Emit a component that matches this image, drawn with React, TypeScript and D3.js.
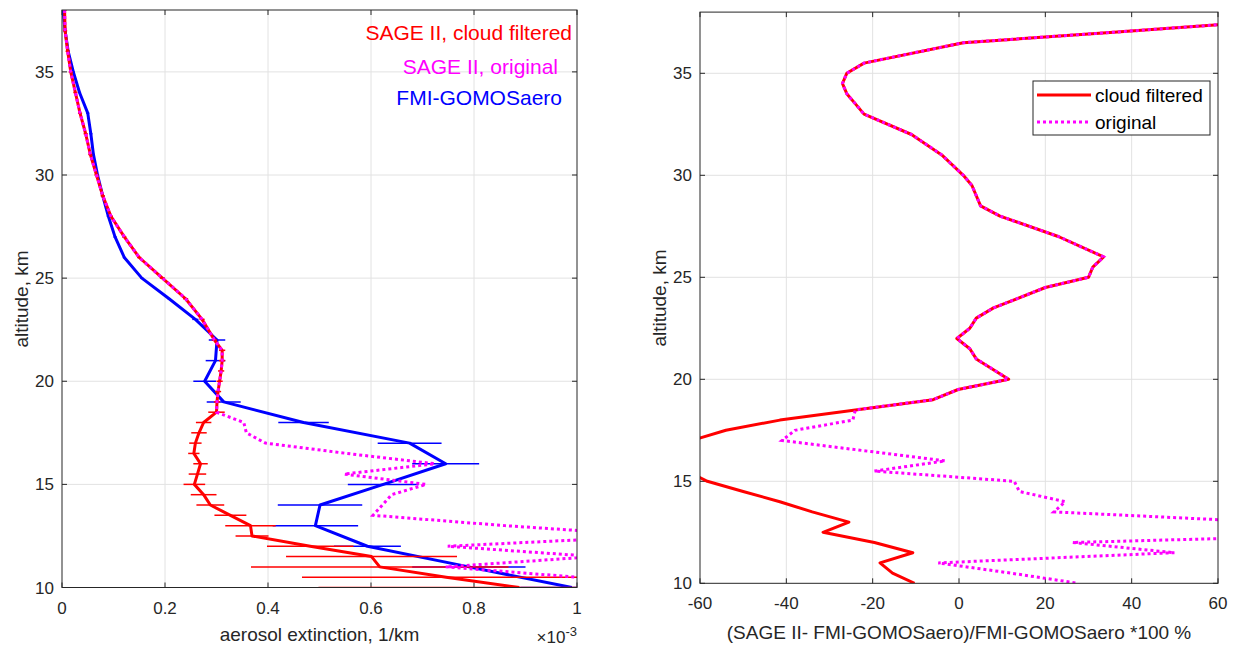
import React from 'react';
import * as d3 from 'd3';

// SAGE II profiles (altitude km, extinction in 1e-3 /km)
const altSage = [38, 37, 36, 35, 34, 33, 32, 31, 30, 29, 28, 27, 26, 25, 24, 23, 22, 21.5, 21, 20.5, 20, 19.5, 19, 18.5, 18, 17.5, 17, 16.5, 16, 15.5, 15, 14.5, 14, 13.5, 13, 12.5, 12, 11.5, 11, 10.5, 10];
const extFiltered = [0.005, 0.006, 0.011, 0.017, 0.026, 0.035, 0.046, 0.055, 0.067, 0.079, 0.095, 0.121, 0.150, 0.195, 0.240, 0.272, 0.296, 0.311, 0.311, 0.309, 0.306, 0.303, 0.301, 0.300, 0.275, 0.266, 0.259, 0.256, 0.269, 0.263, 0.257, 0.275, 0.288, 0.327, 0.366, 0.369, 0.482, 0.601, 0.617, 0.746, 0.888];
const extFilteredErr = [0.004, 0.004, 0.004, 0.004, 0.004, 0.004, 0.004, 0.004, 0.004, 0.004, 0.004, 0.004, 0.004, 0.005, 0.005, 0.005, 0.005, 0.006, 0.006, 0.006, 0.006, 0.006, 0.006, 0.016, 0.015, 0.015, 0.012, 0.011, 0.014, 0.017, 0.021, 0.025, 0.027, 0.031, 0.049, 0.032, 0.084, 0.166, 0.25, 0.28, 0.39];
const extOriginal = [0.005, 0.006, 0.011, 0.017, 0.026, 0.035, 0.046, 0.055, 0.067, 0.079, 0.095, 0.121, 0.150, 0.195, 0.240, 0.272, 0.296, 0.311, 0.311, 0.309, 0.306, 0.303, 0.301, 0.300, 0.353, 0.358, 0.395, 0.553, 0.724, 0.548, 0.707, 0.640, 0.622, 0.604, 0.86, 1.16, 0.749, 1.035, 0.745, 1.0, 1.26];

// FMI-GOMOSaero profile
const altFmi = [38, 37, 36, 35, 34, 33, 32, 31, 30, 29, 28, 27, 26, 25, 24, 23, 22, 21, 20, 19, 18, 17, 16, 15, 14, 13, 12, 11, 10];
const extFmi = [0.002, 0.006, 0.012, 0.022, 0.034, 0.050, 0.056, 0.061, 0.069, 0.079, 0.090, 0.103, 0.121, 0.155, 0.208, 0.259, 0.301, 0.298, 0.277, 0.314, 0.469, 0.675, 0.745, 0.624, 0.501, 0.492, 0.593, 0.79, 0.99];
const extFmiErr = [0.003, 0.003, 0.003, 0.003, 0.003, 0.003, 0.003, 0.003, 0.003, 0.003, 0.003, 0.003, 0.003, 0.003, 0.003, 0.006, 0.016, 0.019, 0.022, 0.033, 0.049, 0.062, 0.065, 0.069, 0.082, 0.083, 0.065, 0.11, 0.1];

// relative difference, %
const altDiff = [37.5, 37, 36.5, 35.5, 35, 34.5, 34, 33.5, 33, 32, 31, 30, 29.5, 28.5, 28, 27, 26, 25.5, 25, 24.5, 23.5, 23, 22.5, 22, 21.5, 21, 20, 19.5, 19, 18.5, 18, 17.5, 17, 16.5, 16, 15.5, 15, 14.5, 14, 13.5, 13, 12.5, 12, 11.5, 11, 10.5, 10];
const diffFiltered = [68, 35, 1, -22, -26, -27, -26, -24, -22, -11, -4, 1, 3, 5, 9.5, 23, 33.5, 31, 30, 20, 8, 4, 2.5, -0.5, 2.5, 4, 11.5, -0.2, -6, -24, -41.5, -54, -62, -63, -64, -63, -58.3, -50, -41.5, -34, -25.5, -31.5, -19.6, -10.7, -18.3, -15.4, -10.3];
const diffOriginal = [68, 35, 1, -22, -26, -27, -26, -24, -22, -11, -4, 1, 3, 5, 9.5, 23, 33.5, 31, 30, 20, 8, 4, 2.5, -0.5, 2.5, 4, 11.5, -0.2, -6, -24, -24.6, -38, -41, -22, -3.2, -19.6, 12.8, 14, 24.6, 22, 72, 115, 26.3, 49.9, -4.8, 12, 27.6];

const extTicks = [0, 0.2, 0.4, 0.6, 0.8, 1];
const diffTicks = [-60, -40, -20, 0, 20, 40, 60];
const altTicks = [10, 15, 20, 25, 30, 35];

const FONT = '"Liberation Sans", Arial, Helvetica, sans-serif';
const AX = '#262626';
const GRID = '#e2e2e2';

type Scale = d3.ScaleLinear<number, number>;

function Frame({ id, x, y, xticks, yticks, fmt }: { id: string; x: Scale; y: Scale; xticks: number[]; yticks: number[]; fmt: (v: number) => string }) {
  const [x0, x1] = x.range();
  const [y0, y1] = y.range();
  const tl = 5;
  return (
    <g>
      <defs>
        <clipPath id={id}>
          <rect x={x0} y={y1} width={x1 - x0} height={y0 - y1} />
        </clipPath>
      </defs>
      <rect x={x0} y={y1} width={x1 - x0} height={y0 - y1} fill="#fff" />
      {xticks.slice(1, -1).map(t => (
        <line key={'gx' + t} x1={x(t)} x2={x(t)} y1={y0} y2={y1} stroke={GRID} />
      ))}
      {yticks.slice(1).map(t => (
        <line key={'gy' + t} x1={x0} x2={x1} y1={y(t)} y2={y(t)} stroke={GRID} />
      ))}
      {xticks.map(t => (
        <g key={'tx' + t}>
          <line x1={x(t)} x2={x(t)} y1={y0} y2={y0 - tl} stroke={AX} />
          <line x1={x(t)} x2={x(t)} y1={y1} y2={y1 + tl} stroke={AX} />
          <text x={x(t)} y={y0 + 26} textAnchor="middle" fontSize={17} fill={AX}>{fmt(t)}</text>
        </g>
      ))}
      {yticks.map(t => (
        <g key={'ty' + t}>
          <line x1={x0} x2={x0 + tl} y1={y(t)} y2={y(t)} stroke={AX} />
          <line x1={x1} x2={x1 - tl} y1={y(t)} y2={y(t)} stroke={AX} />
          <text x={x0 - 8} y={y(t) + 6} textAnchor="end" fontSize={17} fill={AX}>{t}</text>
        </g>
      ))}
    </g>
  );
}

function Box({ x, y }: { x: Scale; y: Scale }) {
  const [x0, x1] = x.range();
  const [y0, y1] = y.range();
  return <rect x={x0} y={y1} width={x1 - x0} height={y0 - y1} fill="none" stroke={AX} strokeWidth={1} />;
}

export default function App() {
  const xL = d3.scaleLinear().domain([0, 1]).range([62, 577]);
  const yL = d3.scaleLinear().domain([10, 38]).range([587.5, 10]);
  const xR = d3.scaleLinear().domain([-60, 60]).range([700, 1218]);
  const yR = d3.scaleLinear().domain([10, 38]).range([583.3, 12.1]);

  const lineL = (alts: number[], vals: number[]) =>
    d3.line<number>().x((_, i) => xL(vals[i])).y(a => yL(a))(alts) || '';
  const lineR = (vals: number[]) =>
    d3.line<number>().x((_, i) => xR(vals[i])).y(a => yR(a))(altDiff) || '';

  const errBars = (alts: number[], vals: number[], errs: number[], color: string) =>
    alts.map((a, i) => (
      <line key={a} x1={xL(vals[i] - errs[i])} x2={xL(vals[i] + errs[i])} y1={yL(a)} y2={yL(a)} stroke={color} strokeWidth={1.5} />
    ));

  return (
    <div style={{ position: 'absolute', left: 0, top: 0 }}>
      <svg width={1234} height={646} style={{ display: 'block', fontFamily: FONT }}>
        <rect width={1234} height={646} fill="#fff" />

        {/* left panel: extinction profiles */}
        <Frame id="clipL" x={xL} y={yL} xticks={extTicks} yticks={altTicks} fmt={v => String(v)} />
        <g clipPath="url(#clipL)">
          {errBars(altFmi, extFmi, extFmiErr, '#0000ff')}
          <path d={lineL(altFmi, extFmi)} fill="none" stroke="#0000ff" strokeWidth={3} strokeLinejoin="round" />
          {errBars(altSage, extFiltered, extFilteredErr, '#ff0000')}
          <path d={lineL(altSage, extFiltered)} fill="none" stroke="#ff0000" strokeWidth={3} strokeLinejoin="round" />
          <path d={lineL(altSage, extOriginal)} fill="none" stroke="#ff00ff" strokeWidth={3} strokeDasharray="3,3" />
        </g>
        <Box x={xL} y={yL} />
        <g fontSize={21} textAnchor="end">
          <text x={572} y={40} fill="#ff0000">SAGE II, cloud filtered</text>
          <text x={558} y={74} fill="#ff00ff">SAGE II, original</text>
          <text x={562} y={105} fill="#0000ff">FMI-GOMOSaero</text>
        </g>
        <text x={319.5} y={641} textAnchor="middle" fontSize={19} fill={AX}>aerosol extinction, 1/km</text>
        <text x={577} y={643} textAnchor="end" fontSize={17} fill={AX}>
          {'\u00d710'}<tspan dy={-7} fontSize={13}>-3</tspan>
        </text>
        <text transform="translate(28,299) rotate(-90)" textAnchor="middle" fontSize={19} fill={AX}>altitude, km</text>

        {/* right panel: relative difference */}
        <Frame id="clipR" x={xR} y={yR} xticks={diffTicks} yticks={altTicks} fmt={v => String(v)} />
        <g clipPath="url(#clipR)">
          <path d={lineR(diffFiltered)} fill="none" stroke="#ff0000" strokeWidth={3} strokeLinejoin="round" />
          <path d={lineR(diffOriginal)} fill="none" stroke="#ff00ff" strokeWidth={3} strokeDasharray="3,3" />
        </g>
        <Box x={xR} y={yR} />
        <g>
          <rect x={1033} y={81} width={177} height={54} fill="#fff" stroke={AX} strokeWidth={1} />
          <line x1={1037} x2={1091} y1={95} y2={95} stroke="#ff0000" strokeWidth={3} />
          <line x1={1037} x2={1091} y1={122} y2={122} stroke="#ff00ff" strokeWidth={3} strokeDasharray="3,3" />
          <text x={1095} y={102} fontSize={19} fill="#000">cloud filtered</text>
          <text x={1095} y={129} fontSize={19} fill="#000">original</text>
        </g>
        <text x={959} y={639} textAnchor="middle" fontSize={19} fill={AX}>(SAGE II- FMI-GOMOSaero)/FMI-GOMOSaero *100 %</text>
        <text transform="translate(666,298) rotate(-90)" textAnchor="middle" fontSize={19} fill={AX}>altitude, km</text>
      </svg>
    </div>
  );
}
